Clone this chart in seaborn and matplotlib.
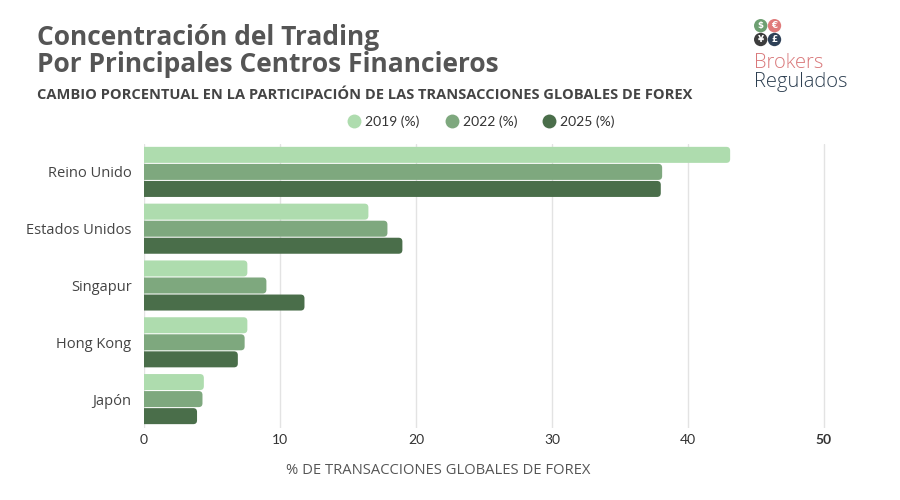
import matplotlib
matplotlib.use("Agg")
import matplotlib.pyplot as plt
import seaborn as sns
import pandas as pd
from matplotlib.patches import FancyBboxPatch
from matplotlib.lines import Line2D

categories = ["Reino Unido", "Estados Unidos", "Singapur", "Hong Kong", "Japón"]
series_names = ["2019 (%)", "2022 (%)", "2025 (%)"]
values_2019 = [43.1, 16.5, 7.6, 7.6, 4.4]
values_2022 = [38.1, 17.9, 9.0, 7.4, 4.3]
values_2025 = [38.0, 19.0, 11.8, 6.9, 3.9]
x_ticks = [0, 10, 20, 30, 40, 50]
colors = ["#aedcae", "#7ea87e", "#4a6e4a"]

rows = []
for name, vals in zip(series_names, [values_2019, values_2022, values_2025]):
    for c, v in zip(categories, vals):
        rows.append({"Centro": c, "Valor": v, "Serie": name})
df = pd.DataFrame(rows)

sns.set_theme(style="white")
plt.rcParams['font.family'] = ['Open Sans', 'DejaVu Sans']

fig = plt.figure(figsize=(9, 5), dpi=100)
ax = fig.add_axes([0.16, 0.145, 682.7 / 900, 0.568])
sns.barplot(data=df, y="Centro", x="Valor", hue="Serie", order=categories,
            hue_order=series_names, palette=colors, saturation=1, orient="h",
            width=0.9, gap=0.06, errorbar=None, legend=False, ax=ax)

# rounded bar ends
aspect = (680 / 50) / (284 / 5)
for p in list(ax.patches):
    x, y, w, h = p.get_x(), p.get_y(), p.get_width(), p.get_height()
    fc = p.get_facecolor()
    p.remove()
    fb = FancyBboxPatch((x - 1, y), w + 1, h,
                        boxstyle="round,pad=0,rounding_size=0.28",
                        mutation_aspect=aspect, fc=fc, ec="none", zorder=2)
    ax.add_patch(fb)

ax.set_xlim(0, 50.2)
ax.set_ylim(4.5, -0.5)
ax.set_xticks(x_ticks)
ax.set_xticklabels([str(t) for t in x_ticks])
for s in ax.spines.values():
    s.set_visible(False)
ax.grid(axis="x", color="#e3e3e3", linewidth=1, zorder=0)
ax.grid(axis="y", visible=False)
ax.set_axisbelow(True)
ax.tick_params(axis="both", length=0)
ax.tick_params(axis="x", pad=5, labelsize=10, labelcolor="#333333")
ax.tick_params(axis="y", pad=9, labelsize=10.5, labelcolor="#444444")
for lab in ax.get_xticklabels():
    lab.set_family(["Lato", "DejaVu Sans"])
    if lab.get_text() == "50":
        lab.set_fontweight("bold")
ax.set_xlabel("")
ax.set_ylabel("")

fig.text(438 / 900, 1 - 470 / 500, "% DE TRANSACCIONES GLOBALES DE FOREX",
         ha="center", va="center", fontsize=10.6, color="#555555")

# titles
fig.text(37 / 900, 1 - 45 / 500, "Concentración del Trading", ha="left",
         va="baseline", fontsize=19, fontweight="bold", color="#555555")
fig.text(37 / 900, 1 - 72 / 500, "Por Principales Centros Financieros", ha="left",
         va="baseline", fontsize=19, fontweight="bold", color="#555555")
fig.text(37 / 900, 1 - 99 / 500,
         "CAMBIO PORCENTUAL EN LA PARTICIPACIÓN DE LAS TRANSACCIONES GLOBALES DE FOREX",
         ha="left", va="baseline", fontsize=10.5, fontweight="bold", color="#444444")

# legend
handles = [Line2D([0], [0], marker="o", linestyle="none", markersize=10,
                  markerfacecolor=c, markeredgecolor="none") for c in colors]
leg = fig.legend(handles, series_names, loc="center", bbox_to_anchor=(481 / 900, 1 - 122 / 500),
                 ncol=3, frameon=False, columnspacing=1.8, handletextpad=0.3,
                 handlelength=1.0, prop={"family": ["Lato", "DejaVu Sans"], "size": 10})
for t in leg.get_texts():
    t.set_color("#333333")

# logo
circ = [("$", 760.7, 25.7, "#6d9f71"), ("€", 774.5, 25.7, "#e07b7b"),
        ("¥", 760.7, 39.5, "#3d3d3d"), ("£", 774.5, 39.5, "#2e4057")]
for sym, cx, cy, col in circ:
    fig.text(cx / 900, 1 - cy / 500, sym, ha="center", va="center", fontsize=6.3,
             color="white", fontweight="bold", family="DejaVu Sans",
             bbox=dict(boxstyle="circle,pad=0.25", fc=col, ec="none"))
fig.text(754 / 900, 1 - 68 / 500, "Brokers", ha="left", va="baseline", fontsize=14.5,
         color="#d9787a", fontweight="light", family=["Open Sans", "DejaVu Sans"])
fig.text(754 / 900, 1 - 87 / 500, "Regulados", ha="left", va="baseline", fontsize=14.5,
         color="#2c3e50", fontweight="light", family=["Open Sans", "DejaVu Sans"])

fig.savefig("out.png", dpi=100, facecolor="white")
